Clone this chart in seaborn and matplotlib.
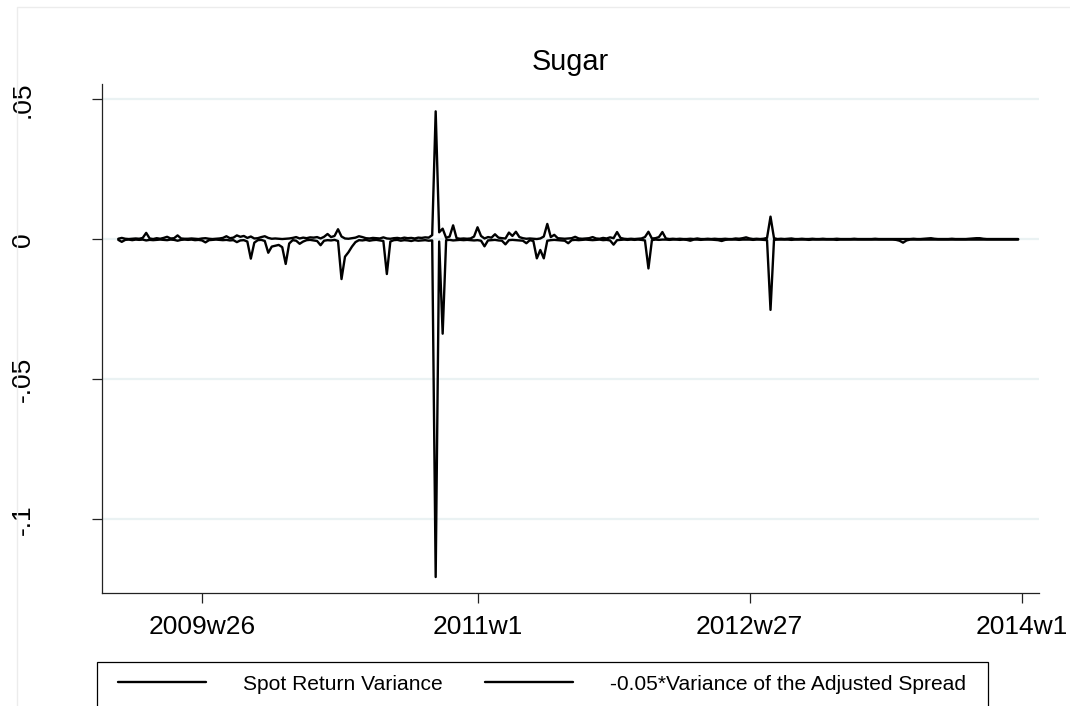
import matplotlib.pyplot as plt
import matplotlib.patches as patches
import seaborn as sns
import pandas as pd
import numpy as np

# weekly data, first obs = 2009w2 (Stata weekly index 2549)
first_week = 2549

# Spot return variance (x 1e-3)
spot_var = [
    0.2, 0.5, 0.2, 0.1, 0.2, 0.3, 0.2, 0.5, 2.3, 0.3,
    0.1, 0.4, 0.2, 0.5, 0.9, 0.3, 0.4, 1.4, 0.3, 0.2,
    0.2, 0.3, 0.2, 0.1, 0.3, 0.4, 0.2, 0.1, 0.2, 0.3,
    0.5, 1.1, 0.4, 0.6, 1.4, 0.9, 1.2, 0.5, 1.0, 0.3,
    0.4, 0.8, 1.1, 0.5, 0.2, 0.3, 0.2, 0.1, 0.2, 0.3,
    0.5, 0.8, 0.3, 0.6, 0.4, 0.7, 0.6, 0.8, 0.3, 0.9,
    1.9, 0.8, 1.2, 3.6, 1.0, 0.3, 0.2, 0.4, 0.6, 1.1,
    0.8, 0.4, 0.3, 0.5, 0.4, 0.3, 0.7, 0.3, 0.2, 0.4,
    0.5, 0.3, 0.6, 0.4, 0.5, 0.3, 0.6, 0.5, 0.7, 0.6,
    1.5, 45.7, 2.5, 3.8, 0.5, 1.0, 5.0, 0.4, 0.2, 0.3,
    0.2, 0.3, 1.0, 4.3, 1.2, 0.3, 0.8, 0.6, 1.8, 0.6,
    0.4, 0.3, 2.4, 1.2, 2.7, 0.8, 0.4, 0.2, 0.3, 0.2,
    0.1, 0.3, 1.0, 5.5, 0.8, 1.6, 0.4, 0.3, 0.2, 0.3,
    0.4, 0.9, 0.3, 0.2, 0.3, 0.4, 0.8, 0.3, 0.2, 0.5,
    0.3, 0.7, 0.4, 2.6, 0.5, 0.2, 0.1, 0.2, 0.1, 0.2,
    0.3, 0.8, 2.7, 0.3, 0.4, 0.8, 2.6, 0.3, 0.1, 0.2,
    0.1, 0.2, 0.1, 0.1, 0.2, 0.1, 0.3, 0.1, 0.1, 0.2,
    0.1, 0.2, 0.1, 0.1, 0.2, 0.1, 0.1, 0.3, 0.2, 0.4,
    0.7, 0.3, 0.1, 0.2, 0.1, 0.2, 0.5, 8.1, 0.4, 0.1,
    0.2, 0.1, 0.2, 0.3, 0.1, 0.1, 0.2, 0.1, 0.1, 0.2,
    0.1, 0.1, 0.2, 0.1, 0.1, 0.1, 0.2, 0.1, 0.1, 0.1,
    0.1, 0.2, 0.1, 0.1, 0.1, 0.1, 0.1, 0.2, 0.1, 0.1,
    0.1, 0.1, 0.1, 0.1, 0.1, 0.1, 0.1, 0.1, 0.2, 0.1,
    0.1, 0.2, 0.3, 0.4, 0.2, 0.1, 0.1, 0.1, 0.1, 0.2,
    0.1, 0.1, 0.1, 0.1, 0.2, 0.3, 0.4, 0.4, 0.2, 0.1,
    0.1, 0.1, 0.1, 0.1, 0.1, 0.1, 0.1, 0.1, 0.1,
]

# -0.05 * variance of the adjusted spread (x 1e-3)
spread_var = [
    -0.2, -0.9, -0.2, -0.1, -0.3, -0.1, -0.2, -0.1, -0.4, -0.2,
    -0.3, -0.2, -0.1, -0.2, -0.3, -0.1, -0.2, -0.5, -0.2, -0.1,
    -0.2, -0.1, -0.3, -0.2, -0.4, -1.1, -0.3, -0.2, -0.1, -0.2,
    -0.3, -0.2, -0.4, -0.3, -1.0, -0.4, -0.3, -0.8, -6.9, -1.2,
    -0.3, -0.2, -0.6, -4.8, -2.6, -2.3, -2.0, -2.8, -8.8, -1.5,
    -0.3, -0.5, -1.6, -0.8, -0.3, -0.2, -0.4, -0.6, -2.1, -0.5,
    -0.3, -0.4, -0.2, -0.6, -14.2, -6.2, -4.6, -2.6, -1.0, -0.3,
    -0.4, -0.2, -0.5, -0.3, -0.2, -0.4, -0.6, -12.4, -0.8, -0.3,
    -0.2, -0.5, -0.3, -0.4, -0.6, -0.3, -0.5, -0.4, -0.3, -0.5,
    -0.4, -120.6, -0.8, -33.7, -0.3, -0.2, -0.4, -0.3, -0.2, -0.3,
    -0.2, -0.3, -0.4, -0.3, -0.5, -2.5, -0.4, -0.3, -0.2, -0.4,
    -0.5, -1.8, -0.3, -0.2, -0.3, -0.4, -0.5, -1.4, -0.3, -0.6,
    -6.8, -3.8, -6.8, -0.5, -0.3, -0.2, -0.3, -0.4, -0.5, -1.4,
    -0.3, -0.2, -0.3, -0.2, -0.1, -0.2, -0.3, -0.2, -0.1, -0.3,
    -0.2, -0.4, -1.9, -0.3, -0.2, -0.1, -0.2, -0.1, -0.2, -0.1,
    -0.2, -0.4, -10.4, -0.3, -0.1, -0.2, -0.1, -0.1, -0.2, -0.1,
    -0.1, -0.2, -0.1, -0.2, -0.5, -0.1, -0.1, -0.2, -0.1, -0.1,
    -0.1, -0.2, -0.3, -0.6, -0.2, -0.1, -0.1, -0.1, -0.2, -0.1,
    -0.1, -0.1, -0.2, -0.1, -0.1, -0.2, -0.3, -25.2, -0.2, -0.1,
    -0.1, -0.1, -0.1, -0.2, -0.1, -0.1, -0.1, -0.1, -0.2, -0.1,
    -0.1, -0.1, -0.1, -0.1, -0.1, -0.1, -0.2, -0.1, -0.1, -0.1,
    -0.1, -0.1, -0.1, -0.1, -0.1, -0.1, -0.1, -0.1, -0.1, -0.1,
    -0.1, -0.1, -0.1, -0.2, -0.5, -1.2, -0.4, -0.1, -0.1, -0.1,
    -0.1, -0.1, -0.1, -0.1, -0.1, -0.1, -0.1, -0.1, -0.1, -0.1,
    -0.1, -0.1, -0.1, -0.1, -0.1, -0.1, -0.1, -0.1, -0.1, -0.1,
    -0.1, -0.1, -0.1, -0.1, -0.1, -0.1, -0.1, -0.1, -0.1,
]

tick_weeks = [2573, 2652, 2730, 2808]
tick_labels = ['2009w26', '2011w1', '2012w27', '2014w1']
y_ticks = [0.05, 0, -0.05, -0.1]
y_labels = ['.05', '0', '-.05', '-.1']

df = pd.DataFrame({
    'week': np.arange(first_week, first_week + len(spot_var)),
    'spot': np.array(spot_var) / 1000,
    'spread': np.array(spread_var) / 1000,
})

sns.set_style('white')
plt.rcParams['font.family'] = ['Liberation Sans', 'DejaVu Sans']
plt.rcParams['text.color'] = 'black'

fig = plt.figure(figsize=(10.7, 7.06), dpi=100)
ax = fig.add_axes([0.0949, 0.160, 0.8762, 0.721])

# faint outer graph-region border
fig.add_artist(patches.Rectangle((17 / 1070, -0.1), 1.1, 1.1 - 7 / 706,
                                 transform=fig.transFigure, fill=False,
                                 ec='#ececec', lw=1))

sns.lineplot(data=df, x='week', y='spot', ax=ax, color='black', lw=1.7,
             label='Spot Return Variance', legend=False)
sns.lineplot(data=df, x='week', y='spread', ax=ax, color='black', lw=1.7,
             label='-0.05*Variance of the Adjusted Spread', legend=False)

ax.set_xlim(2544.2, 2813.0)
ax.set_ylim(-0.12632, 0.05546)
ax.set_xticks(tick_weeks)
ax.set_xticklabels(tick_labels)
ax.set_yticks(y_ticks)
ax.set_yticklabels(y_labels, rotation=90, va='center')
ax.set_xlabel('')
ax.set_ylabel('')

ax.yaxis.grid(True, color='#eaf2f3', lw=1.6)
ax.set_axisbelow(True)
for s in ['top', 'right']:
    ax.spines[s].set_visible(False)
for s in ['left', 'bottom']:
    ax.spines[s].set_color('#222222')
    ax.spines[s].set_linewidth(0.9)

ax.tick_params(axis='both', direction='out', length=7, width=0.9,
               color='#222222', labelsize=19, labelcolor='black',
               bottom=True, left=True)
ax.tick_params(axis='y', pad=41)
ax.tick_params(axis='x', pad=8.5)

fig.text(570 / 1070, 1 - 70 / 706, 'Sugar', ha='center', va='baseline',
         fontsize=20.8, color='black')

# legend box (bottom edge runs off the image, as in the original)
fig.add_artist(patches.Rectangle((97 / 1070, -0.05), 891 / 1070,
                                 1 - 662 / 706 + 0.05,
                                 transform=fig.transFigure, fill=False,
                                 ec='black', lw=0.9))

handles, labels = ax.get_legend_handles_labels()
leg = fig.legend(handles, labels, loc='center left', ncol=2,
                 bbox_to_anchor=(118 / 1070, 1 - 684 / 706),
                 fontsize=15.1, handlelength=4.2, handletextpad=1.75,
                 columnspacing=2.05, borderpad=0, borderaxespad=0,
                 frameon=False)
for t in leg.get_texts():
    t.set_color('black')
for h in leg.get_lines():
    h.set_linewidth(1.7)

fig.savefig('out.png', dpi=100)
